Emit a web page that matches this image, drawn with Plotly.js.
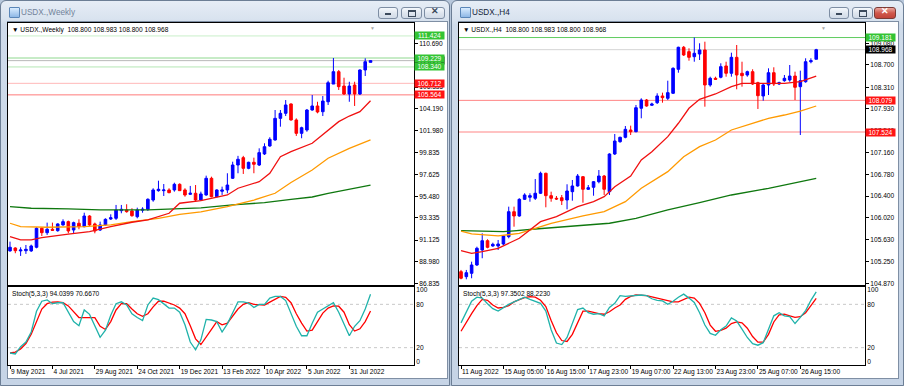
<!DOCTYPE html>
<html><head><meta charset="utf-8">
<script src="https://cdn.plot.ly/plotly-3.0.1.min.js"></script>
<style>
body{margin:0;width:904px;height:386px;overflow:hidden;background:#b7c7db;position:relative;font-family:"Liberation Sans",Arial,sans-serif}
.win{position:absolute;top:0;height:386px;box-sizing:border-box;border:1px solid #6c7e95;border-radius:6px 6px 0 0;background:linear-gradient(to bottom,#e6edf6 0,#d9e3ef 18px,#cfdbea 24px,#c6d4e6 100%)}
.client{position:absolute;background:#fff;border:1px solid #7f8fa4;box-sizing:border-box}
.ttl{position:absolute;top:6px;font-size:8.2px;line-height:14px;white-space:nowrap}
.icon{position:absolute;top:7px;width:9px;height:9px;border:1px solid #5a86b8;background:linear-gradient(#d9ecff,#8fb8e6);border-radius:1px}
.btn{position:absolute;top:7px;height:12px;box-sizing:border-box;border:1px solid #7d8da3;border-radius:3px;background:linear-gradient(#f5f8fc,#dfe6ef 50%,#d2dbe7)}
.btn.red{background:linear-gradient(#e9a79f,#d0584c 50%,#c1443a);border-color:#7b3a35}
.mn{position:absolute;left:6px;top:5px;width:6px;height:2px;background:#3c4a5c}
.rs{position:absolute;left:6px;top:2px;width:6px;height:4px;border:1px solid #3c4a5c;border-top-width:2px}
.cl{position:absolute;left:0;top:-2px;width:100%;text-align:center;font-size:9px;color:#3c4a5c;font-weight:bold}
#chart{position:absolute;left:0;top:0;width:904px;height:386px;z-index:5}
</style>
</head><body>
<div class="win" style="left:0;width:450px"></div>
<div class="win" style="left:451px;width:453px"></div>
<div class="client" style="left:7px;top:21px;width:441px;height:358px"></div>
<div class="client" style="left:458px;top:21px;width:441px;height:358px"></div>
<div class="icon" style="left:9px"></div>
<div class="ttl" style="left:21px;color:#72839a">USDX.,Weekly</div>
<div class="icon" style="left:460px"></div>
<div class="ttl" style="left:472px;color:#14243a">USDX.,H4</div>
<div class="btn" style="left:378px;width:20px"><div class="mn"></div></div>
<div class="btn" style="left:401px;width:21px"><div class="rs"></div></div>
<div class="btn" style="left:424px;width:21px"><div class="cl">✕</div></div>
<div class="btn" style="left:829px;width:20px"><div class="mn"></div></div>
<div class="btn" style="left:852px;width:21px"><div class="rs"></div></div>
<div class="btn red" style="left:874px;width:22px"><div class="cl" style="color:#fff">✕</div></div>
<div id="chart"></div>
<script>
// ---------------- Weekly data ----------------
const wOpen  = [90.05,90.34,90.05,90.07,90.05,90.41,92.30,91.86,92.20,92.06,92.63,92.96,92.13,92.80,92.46,93.52,92.73,92.13,92.63,93.22,93.29,94.05,94.12,94.02,93.45,94.09,94.19,95.11,96.04,96.04,96.11,96.11,96.67,96.11,95.68,95.78,95.11,95.61,97.27,95.44,95.98,96.11,97.27,98.59,99.32,98.26,98.86,98.59,99.69,100.48,101.08,103.23,103.73,104.66,103.07,101.74,102.07,104.06,104.46,103.89,104.88,106.64,107.87,106.44,105.65,106.54,105.65,108.04,108.800];
const wHigh  = [90.97,90.41,90.41,90.64,90.67,92.40,92.40,92.86,92.86,92.80,93.19,93.06,92.96,93.19,93.85,93.60,92.86,92.96,93.29,93.69,94.62,94.62,94.69,94.29,94.35,94.39,95.28,96.28,97.03,96.70,96.28,96.83,96.77,96.28,96.51,96.60,95.94,97.53,97.43,96.18,96.44,97.77,98.92,99.50,99.50,98.92,99.32,100.25,100.75,101.35,104.06,104.06,105.05,104.72,103.23,102.40,104.16,105.55,104.88,105.45,106.97,109.23,108.04,107.27,106.87,106.87,108.10,109.20,108.983];
const wLow   = [89.98,89.82,89.55,89.75,89.95,90.31,91.53,91.64,92.03,91.96,92.56,91.80,91.80,92.20,92.40,92.50,91.80,92.03,92.53,93.13,93.13,93.79,93.85,93.45,93.29,93.85,94.02,94.94,95.94,95.51,95.78,95.94,96.01,95.44,95.61,94.94,95.04,95.54,95.38,95.38,95.61,95.78,97.20,97.77,97.70,98.17,97.77,98.49,99.59,100.41,101.01,102.40,103.46,103.00,101.48,101.25,101.90,103.99,103.73,103.46,104.56,106.64,106.05,105.55,104.88,104.46,105.55,107.44,108.800];
const wClose = [90.41,90.07,90.14,90.21,90.54,92.30,91.86,92.20,92.10,92.73,92.96,92.03,92.86,92.46,93.52,92.63,92.03,92.63,93.19,93.35,94.12,94.19,93.95,93.55,94.12,94.19,95.18,96.11,96.18,96.11,95.84,96.67,96.04,95.61,95.78,95.11,95.71,97.27,95.44,96.11,96.11,96.60,98.59,99.16,98.26,98.86,98.66,99.82,100.41,101.15,103.23,103.73,104.56,103.07,101.74,102.30,104.06,104.46,103.86,104.95,106.77,107.87,106.38,105.65,106.44,105.65,108.04,108.86,108.968];

const wMaFastBars = [0,2,4,6,11,15,19,23,26,30,32,36,41,43,47,49,51,53,57,60,62,64,66,68];
const wMaFast     = [91.47,91.14,91.14,91.37,91.71,91.96,92.46,92.90,93.13,93.79,94.79,95.04,95.61,96.28,96.93,97.77,99.42,99.92,100.75,102.07,102.90,103.46,103.89,104.98];
const wMaMidBars  = [0,2,7,14,19,23,28,32,36,41,46,50,53,57,60,64,68];
const wMaMid      = [92.80,92.46,92.40,92.46,92.63,92.96,93.29,93.69,93.92,94.45,95.11,95.78,96.85,98.10,99.26,100.25,101.08];
const wMaSlowBars = [0,4,11,17,26,33,36,42,48,53,57,60,68];
const wMaSlow     = [94.45,94.29,94.22,94.12,94.12,94.29,94.32,94.62,94.85,95.18,95.41,95.78,96.60];

const wStochK = [12.6,11.3,21.3,27.8,41.7,70.4,84.3,86.1,80.9,82.2,82.2,68.7,56.1,50.4,72.2,66.1,49.6,34.3,44.3,64.8,80.9,83.5,79.1,67,61.7,57.4,79.1,88.7,86.5,80,74.8,74.8,69.1,51.7,27.8,17,30.9,59.1,58.3,56.1,41.7,53,67.8,83.5,83.5,81.7,75.7,80,80,88.7,90.9,90.9,85.2,67,49.6,36.5,36.5,53.9,69.1,73.5,77.8,82.2,69.1,51.7,36.5,49.6,57.4,73.5,94.0399];
const wStochD = [12.6,13.9,18.3,25.7,38.7,56.1,73.5,80.9,83,83.5,82.2,77.8,69.1,61.7,61.7,61.7,61.7,49.6,45.2,56.1,72.2,80.9,80.9,73.5,67,63.5,67,76.5,84.3,84.3,82.2,79.1,74.8,67,50.4,32.2,24.3,35.7,45.2,56.1,51.7,53.9,63.5,73.5,80,82.2,80,79.1,79.1,83,86.5,90.9,89.6,82.2,67,53.9,43,44.3,56.1,67.8,74.8,77.8,77.4,69.1,51.7,43,46.1,56.1,70.667];

const wDateBars   = [0,8,16,24,32,40,48,56,64];
const wDateLabels = ['9 May 2021','4 Jul 2021','29 Aug 2021','24 Oct 2021','19 Dec 2021','13 Feb 2022','10 Apr 2022','5 Jun 2022','31 Jul 2022'];
const wPriceTicks = [110.690,108.545,106.335,104.190,101.980,99.835,97.625,95.480,93.335,91.125,88.980,86.835];
const wGreenLevels = [111.424,109.229,108.340];
const wRedLevels   = [106.712,105.564];

// ---------------- H4 data ----------------
const hOpen  = [105.074,104.986,105.045,105.191,105.454,105.617,105.524,105.524,105.559,105.688,106.126,106.051,106.343,106.379,106.361,106.449,106.800,106.407,106.361,106.371,106.331,106.477,106.577,106.740,106.519,106.554,106.652,106.752,106.477,107.138,107.354,107.431,107.559,107.529,107.940,108.085,107.993,108.038,108.156,108.115,108.203,108.624,109.010,108.933,108.845,108.892,108.963,108.349,108.466,108.484,108.682,108.554,108.834,108.554,108.524,108.582,108.389,108.156,108.349,108.564,108.366,108.424,108.436,108.506,108.319,108.406,108.757,108.800];
const hHigh  = [105.104,105.104,105.249,105.512,105.747,105.642,105.582,105.630,105.717,106.214,106.214,106.361,106.449,106.449,106.699,106.828,106.810,106.477,106.401,106.419,106.607,106.682,106.787,106.752,106.594,106.664,106.857,106.770,107.150,107.489,107.442,107.629,107.635,107.998,108.115,108.103,108.038,108.203,108.214,108.424,108.659,109.020,109.033,108.992,109.181,109.080,109.108,108.494,108.494,108.729,108.757,108.915,109.050,108.757,108.600,108.624,108.406,108.366,108.641,108.659,108.406,108.524,108.699,108.582,108.600,108.817,108.817,108.983];
const hLow   = [104.940,104.940,104.958,105.174,105.309,105.484,105.512,105.454,105.542,105.659,105.863,106.038,106.331,106.301,106.331,106.436,106.203,106.301,106.331,106.243,106.168,106.319,106.565,106.284,106.507,106.406,106.624,106.419,106.419,107.121,107.336,107.413,107.471,107.519,107.764,107.968,107.980,108.015,108.038,108.085,108.191,108.564,108.857,108.775,108.757,108.787,107.968,108.319,108.436,108.466,108.494,108.494,108.273,108.319,108.494,108.349,107.928,108.073,108.173,108.331,108.349,108.406,108.406,108.085,107.471,108.389,108.729,108.800];
const hClose = [104.958,105.056,105.191,105.484,105.617,105.501,105.554,105.559,105.700,106.126,106.051,106.343,106.419,106.407,106.449,106.800,106.407,106.361,106.349,106.319,106.489,106.577,106.752,106.519,106.547,106.652,106.752,106.519,107.138,107.366,107.431,107.571,107.529,107.950,108.085,107.980,108.015,108.156,108.126,108.214,108.641,109.010,108.875,108.834,108.905,108.963,108.349,108.466,108.449,108.670,108.554,108.834,108.524,108.512,108.582,108.366,108.161,108.349,108.564,108.366,108.389,108.466,108.506,108.308,108.424,108.757,108.775,108.968];

const hMaFastBars = [0,2,4,7,11,13,15,18,22,25,27,29,32,34,36,39,41,43,45,48,51,53,58,61,64,67];
const hMaFast     = [105.442,105.396,105.424,105.484,105.659,105.805,105.951,106.038,106.214,106.301,106.389,106.564,106.752,107.033,107.178,107.442,107.677,107.940,108.098,108.191,108.319,108.378,108.378,108.378,108.406,108.506];
const hMaMidBars  = [0,2,7,11,14,17,23,27,31,34,39,42,45,48,51,55,58,61,64,67];
const hMaMid      = [105.787,105.735,105.700,105.747,105.835,105.923,106.051,106.126,106.301,106.537,106.828,107.091,107.266,107.384,107.559,107.677,107.764,107.822,107.892,107.980];
const hMaSlowBars = [0,4,8,14,20,28,33,39,45,51,58,64,67];
const hMaSlow     = [105.793,105.787,105.775,105.822,105.863,105.923,106.010,106.156,106.284,106.419,106.536,106.652,106.712];

const hStochK = [54.3,69.7,84.3,89.9,88.6,80.9,74,70.6,75.7,80,83.4,86.9,89.9,86.9,84.3,81.3,70.6,44.9,26.4,24.3,34.1,53.4,72.7,74.9,68.4,66.3,67.1,64.1,75.7,81.3,92,91.1,92,92.9,92.9,92,87.7,85.6,84.7,80,84.3,89.9,94.1,88.6,82.6,68.4,51.3,39.7,37.1,44.9,50,61.1,56.9,45.7,34.1,25.6,23.4,26.9,44.9,64.1,68.4,64.1,62.9,53.4,62,71.4,85.6,97.3502];
const hStochD = [42.7,55.6,67.1,78.3,86.9,85.6,79.1,74.9,75.7,78.3,83.4,86.4,89.4,90.7,89.9,85.6,77,57.7,40.6,29.9,28.6,38.4,55.6,70.6,70.6,68.4,67.1,66.3,69.7,74.9,79.1,86.9,91.1,92.9,92.9,92,90.3,88.6,86.9,84.7,83.4,83.4,86.9,89.9,88.6,81.3,68.4,51.3,42.7,44,47,53.4,55.6,54.3,47,35.4,27.7,27.7,38.4,55.6,65.4,66.3,64.1,62,62.9,68.4,78.3,88.2230];

const hDateBars   = [0,8,16,24,32,40,48,56,64];
const hDateLabels = ['11 Aug 2022','15 Aug 05:00','16 Aug 15:00','17 Aug 23:00','19 Aug 07:00','22 Aug 13:00','23 Aug 23:00','25 Aug 07:00','26 Aug 15:00'];
const hPriceTicks = [109.080,108.700,108.310,107.930,107.540,107.160,106.780,106.400,106.020,105.630,105.250,104.870];
const hGreenLevels = [109.181];
const hRedLevels   = [108.079,107.524];

const stochTicks = [0,20,80,100];
const stochLevels = [80,20];

// ---------------- styles ----------------
const BLUE='#0000ff', RED='#ff0000', MA_RED='#f01010', MA_ORANGE='#ff9a00', MA_GREEN='#0f780f', TEAL='#20b2aa';
const FONT='"Liberation Sans", Arial, sans-serif';
const FS=6.6;

const idx = a => a.map((_, i) => i);
const last = a => a[a.length-1];

function candle(o,h,l,c,xa,ya){
  return {type:'candlestick', x:idx(o), open:o, high:h, low:l, close:c, xaxis:xa, yaxis:ya,
    increasing:{line:{color:BLUE,width:1}, fillcolor:BLUE},
    decreasing:{line:{color:RED,width:1}, fillcolor:RED},
    whiskerwidth:0, hoverinfo:'skip', showlegend:false};
}
function line(x,y,color,xa,ya,w){
  return {type:'scatter', mode:'lines', x:x, y:y, xaxis:xa, yaxis:ya, line:{color:color,width:w||1.3}, hoverinfo:'skip', showlegend:false};
}

const traces = [
  candle(wOpen,wHigh,wLow,wClose,'x','y'),
  line(wMaSlowBars,wMaSlow,MA_GREEN,'x','y'),
  line(wMaMidBars,wMaMid,MA_ORANGE,'x','y'),
  line(wMaFastBars,wMaFast,MA_RED,'x','y'),
  line(idx(wStochD),wStochD,RED,'x2','y2'),
  line(idx(wStochK),wStochK,TEAL,'x2','y2'),
  candle(hOpen,hHigh,hLow,hClose,'x3','y3'),
  line(hMaSlowBars,hMaSlow,MA_GREEN,'x3','y3'),
  line(hMaMidBars,hMaMid,MA_ORANGE,'x3','y3'),
  line(hMaFastBars,hMaFast,MA_RED,'x3','y3'),
  line(idx(hStochD),hStochD,RED,'x4','y4'),
  line(idx(hStochK),hStochK,TEAL,'x4','y4')
];

const W=904, H=386;
const dx = (a,b)=>[a/W,b/W];
const dy = (top,bot)=>[1-bot/H,1-top/H];
const XR=[-0.38,76.2];
const frame = {showgrid:false, zeroline:false, showline:true, mirror:true, linecolor:'#000', linewidth:1, fixedrange:true};

function xMain(dom,anchor){return Object.assign({domain:dom, anchor:anchor, range:XR, showticklabels:false, ticks:'', rangeslider:{visible:false}}, frame);}
function xSub(dom,anchor,tv,tt){return Object.assign({domain:dom, anchor:anchor, range:XR, tickvals:tv, ticktext:tt, tickangle:0, ticks:'outside', ticklen:3, tickcolor:'#000', ticklabelposition:'outside right', tickfont:{size:FS}}, frame);}
function yMain(dom,anchor,range,tv){return Object.assign({domain:dom, anchor:anchor, side:'right', range:range, tickvals:tv, ticktext:tv.map(v=>v.toFixed(3)), ticks:'outside', ticklen:3, tickcolor:'#000', tickfont:{size:FS}}, frame);}
function ySub(dom,anchor){return Object.assign({domain:dom, anchor:anchor, side:'right', range:[-4,104], tickvals:stochTicks, ticktext:stochTicks.map(String), ticks:'', tickfont:{size:FS}}, frame);}

const wxD = dx(8,414), hxD = dx(459,865);
const mainD = dy(23,285), subD = dy(287,365);

const shapes=[], ann=[];
function hline(xa,ya,y,color,dash){shapes.push({type:'line', xref:xa+' domain', x0:0, x1:1, yref:ya, y0:y, y1:y, line:{color:color,width:1,dash:dash||'solid'}, layer:'below'});}
function tag(xa,ya,y,text,bg){ann.push({xref:xa+' domain', x:1, xanchor:'left', xshift:0, yref:ya, y:y, yanchor:'middle', text:text, showarrow:false, bgcolor:bg, width:29, height:7, borderpad:0, font:{size:FS,color:'#fff'}});}

// weekly levels
const wGreenStyle=['#c9efc9','#8fd88f','#b4e6b4'], wRedStyle=['#ffb8b8','#ff7a7a'];
wGreenLevels.forEach((v,i)=>hline('x','y',v,wGreenStyle[i]));
wRedLevels.forEach((v,i)=>hline('x','y',v,wRedStyle[i]));
hline('x','y',last(wClose),'#b8b8b8');
// H4 levels
hGreenLevels.forEach(v=>hline('x3','y3',v,'#5fcc5f'));
hRedLevels.forEach(v=>hline('x3','y3',v,'#ff8585'));
hline('x3','y3',last(hClose),'#d4d4d4');
// stoch levels
stochLevels.forEach(v=>{hline('x2','y2',v,'#c8c8c8','dot'); hline('x4','y4',v,'#c8c8c8','dot');});

// right price tags
tag('x','y',last(wClose),last(wClose).toFixed(3),'#000');
wGreenLevels.forEach(v=>tag('x','y',v,v.toFixed(3),'#33c433'));
wRedLevels.forEach(v=>tag('x','y',v,v.toFixed(3),'#ff1414'));
hGreenLevels.forEach(v=>tag('x3','y3',v,v.toFixed(3),'#33c433'));
tag('x3','y3',last(hClose),last(hClose).toFixed(3),'#000');
hRedLevels.forEach(v=>tag('x3','y3',v,v.toFixed(3),'#ff1414'));

function header(xa,ya,text){ann.push({xref:xa+' domain', yref:ya+' domain', x:0.006, y:1, xanchor:'left', yanchor:'top', yshift:-1, text:text, showarrow:false, font:{size:FS,color:'#000'}});}
const ohlc = (o,h,l,c)=>[last(o),last(h),last(l),last(c)].map(v=>v.toFixed(3)).join(' ');
header('x','y','▼ USDX.,Weekly\u00a0\u00a0'+ohlc(wOpen,wHigh,wLow,wClose));
header('x3','y3','▼ USDX.,H4\u00a0\u00a0'+ohlc(hOpen,hHigh,hLow,hClose));
header('x2','y2','Stoch(5,3,3) '+last(wStochK).toFixed(4)+' '+last(wStochD).toFixed(4));
header('x4','y4','Stoch(5,3,3) '+last(hStochK).toFixed(4)+' '+last(hStochD).toFixed(4));
['x','x3'].forEach((xa,i)=>ann.push({xref:xa+' domain', yref:['y','y3'][i]+' domain', x:0.897, y:1, xanchor:'center', yanchor:'top', text:'▼', showarrow:false, font:{size:5,color:'#a8a8a8'}}));

const layout = {
  width:W, height:H, margin:{l:0,r:0,t:0,b:0},
  paper_bgcolor:'rgba(0,0,0,0)', plot_bgcolor:'#ffffff',
  font:{family:FONT, size:FS, color:'#000'},
  showlegend:false, dragmode:false, hovermode:false,
  xaxis: xMain(wxD,'y'),
  xaxis2: xSub(wxD,'y2',wDateBars,wDateLabels),
  xaxis3: xMain(hxD,'y3'),
  xaxis4: xSub(hxD,'y4',hDateBars,hDateLabels),
  yaxis: yMain(mainD,'x',[86.66,112.71],wPriceTicks),
  yaxis2: ySub(subD,'x2'),
  yaxis3: yMain(mainD,'x3',[104.84,109.436],hPriceTicks),
  yaxis4: ySub(subD,'x4'),
  shapes:shapes, annotations:ann
};
Plotly.newPlot('chart', traces, layout, {staticPlot:true, displayModeBar:false});
</script>
</body></html>
